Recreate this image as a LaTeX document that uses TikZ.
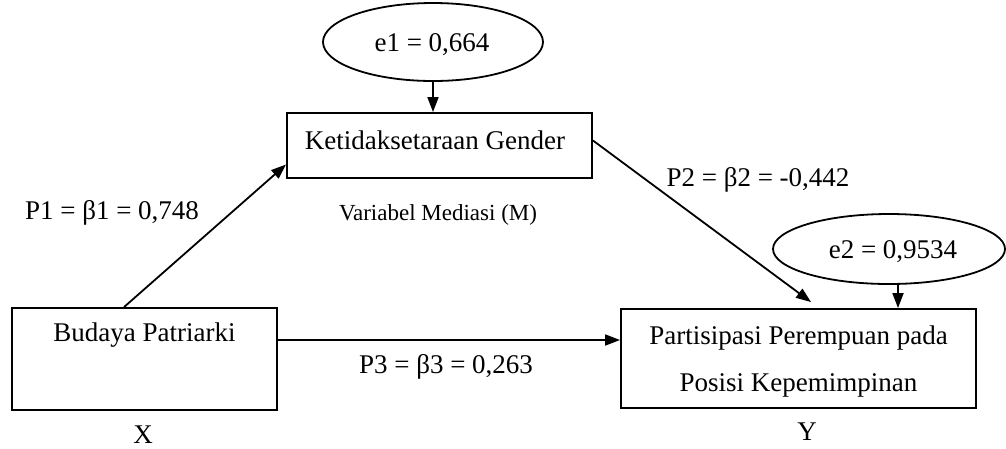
\documentclass[tikz,border=0pt]{standalone}
\usepackage{fontspec}
\setmainfont{Liberation Serif}
\usetikzlibrary{shapes.geometric,arrows.meta,calc}
\begin{document}
\begin{tikzpicture}[x=1pt,y=-1pt,
  every node/.style={font=\fontsize{27}{32}\selectfont, inner sep=0pt},
  vbox/.style={draw, line width=1.9pt, rectangle},
  evar/.style={draw, line width=1.8pt, ellipse},
  path/.style={line width=1.8pt, -{Triangle[length=15pt,width=11pt]}},
  lbl/.style={anchor=center}]
\useasboundingbox (0,0) rectangle (1006,448);
% nodes
\node[evar, minimum width=220pt, minimum height=78pt] (e1) at (433,42) {};
\node[lbl] (e1t) at (432,45) {e1 = 0,664};
\node[vbox, minimum width=305pt, minimum height=65pt] (M) at (439.5,145.5) {};
\node[lbl] (Mt) at (435,140) {Ketidaksetaraan Gender};
\node[vbox, minimum width=265pt, minimum height=102pt] (X) at (144.5,359) {};
\node[lbl] (Xt) at (144.5,335) {Budaya Patriarki};
\node[vbox, minimum width=355pt, minimum height=99pt] (Y) at (798.5,358.5) {};
\node[lbl] (Yt1) at (798.5,338) {Partisipasi Perempuan pada};
\node[lbl] (Yt2) at (798.5,385) {Posisi Kepemimpinan};
\node[evar, minimum width=232pt, minimum height=70pt] (e2) at (889,249) {};
\node[lbl] (e2t) at (893,252) {e2 = 0,9534};
% labels
\node[lbl] (p1) at (112,213) {P1 = β1 = 0,748};
\node[lbl, font=\fontsize{23}{28}\selectfont] (med) at (438,215) {Variabel Mediasi (M)};
\node[lbl] (p2) at (758,180) {P2 = β2 = -0,442};
\node[lbl] (p3) at (446,367) {P3 = β3 = 0,263};
\node[lbl] (xl) at (143,435) {X};
\node[lbl] (yl) at (807,432) {Y};
% connectors
\draw[path] (e1.south) -- (e1.south |- M.north);
\draw[path] ([xshift=9pt]e2.south) -- ([xshift=9pt]e2.south |- Y.north);
\draw[path] ([xshift=113pt]X.north west) -- ([yshift=-19pt]M.west);
\draw[path] ([yshift=5pt]M.east) -- ([xshift=191pt,yshift=6pt]Y.north west);
\draw[path] ([yshift=19pt]X.east) -- ([yshift=19pt]X.east -| Y.west);
\end{tikzpicture}
\end{document}
